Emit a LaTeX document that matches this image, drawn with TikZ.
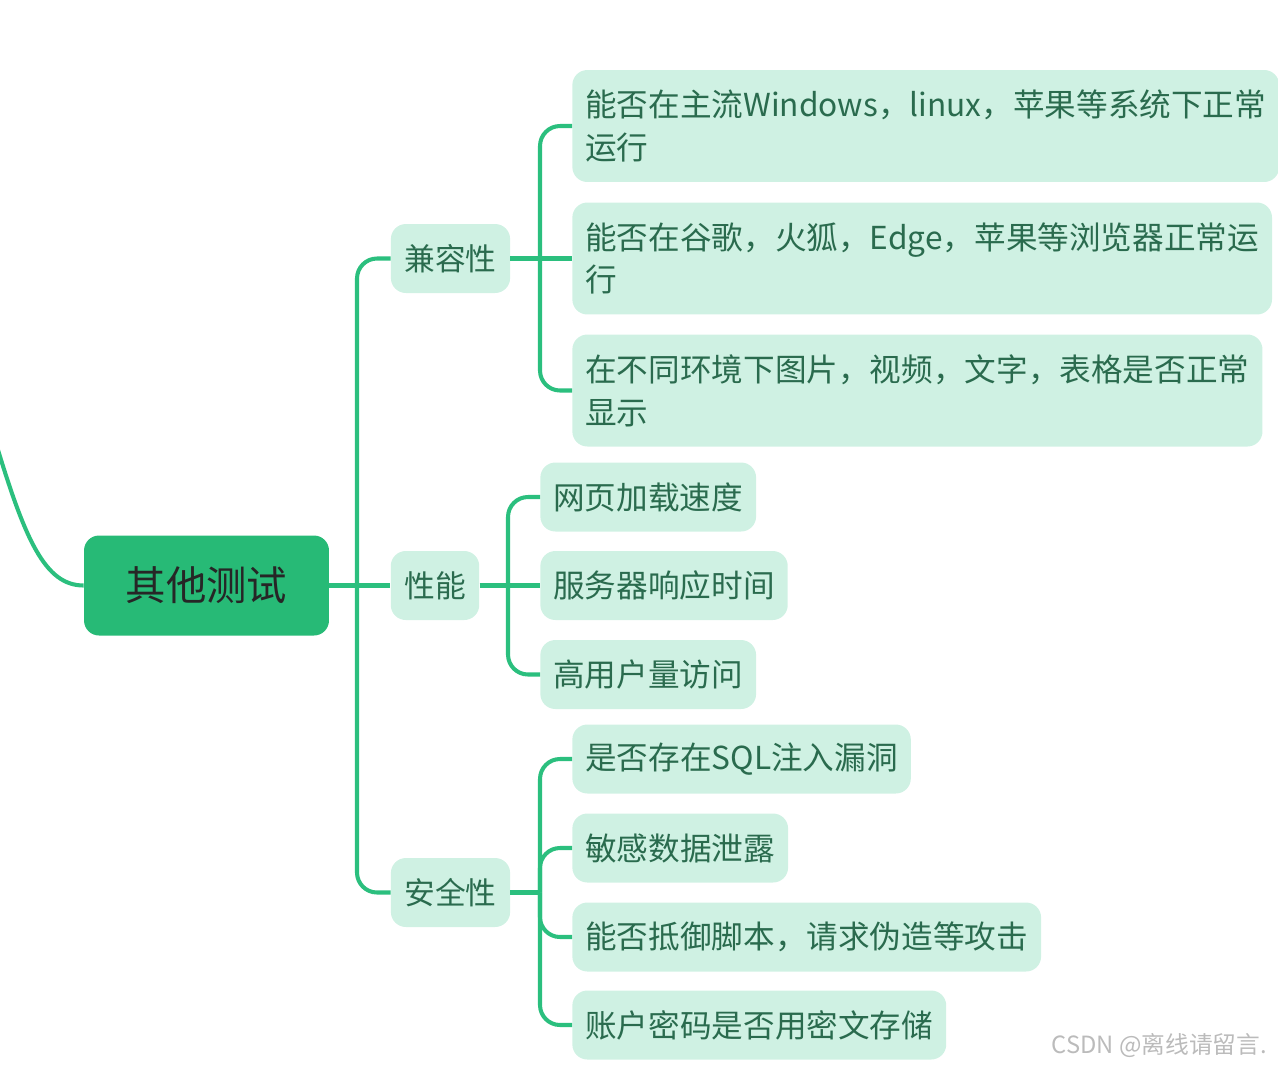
\documentclass[tikz,border=0pt]{standalone}
\usepackage{fontspec}
\setmainfont{Noto Sans CJK SC}
\usetikzlibrary{positioning, calc}
\definecolor{mmline}{HTML}{2BBF7E}
\definecolor{mmroot}{HTML}{27BA76}
\definecolor{mmleaf}{HTML}{CFF1E3}
\definecolor{mmtext}{HTML}{2A6B4E}
\definecolor{mmmark}{HTML}{BBBBBB}

\begin{document}
\begin{tikzpicture}[
    x=0.02cm, y=-0.02cm,
    rootnode/.style={rectangle, fill=mmroot, text=black!85, rounded corners=0.3cm, minimum width=4.9cm, minimum height=2cm, font=\fontsize{23}{28}\selectfont},
    topic/.style={rectangle, fill=mmleaf, text=mmtext, rounded corners=0.3cm, inner xsep=0.27cm, minimum height=1.38cm, font=\fontsize{17.5}{24}\selectfont},
    leaf/.style={rectangle, fill=mmleaf, text=mmtext, rounded corners=0.3cm, inner xsep=0.26cm, minimum height=1.38cm, anchor=west, align=left, font=\fontsize{18}{24.4}\selectfont},
    tall/.style={minimum height=2.24cm},
    link/.style={draw=mmline, line width=2.3pt, rounded corners=0.4cm}
]
\useasboundingbox (0,0) rectangle (1278,1066);
\clip (0,0) rectangle (1278,1066);

% Root and topics
\node[rootnode] (root) at (206.5,585.5) {其他测试};
\node[topic] (compat) at (450.5,258.5) {兼容性};
\node[topic] (perf) at (435,585.5) {性能};
\node[topic] (safe) at (450.5,892.5) {安全性};

% Compatibility leaves
\node[leaf, tall] (c1) at (572,126) {能否在主流Windows，linux，苹果等系统下正常\\运行};
\node[leaf, tall] (c2) at (572,258.5) {能否在谷歌，火狐，Edge，苹果等浏览器正常运\\行};
\node[leaf, tall] (c3) at (572,390.5) {在不同环境下图片，视频，文字，表格是否正常\\显示};

% Performance leaves
\node[leaf] (p1) at (540,497) {网页加载速度};
\node[leaf] (p2) at (540,585.5) {服务器响应时间};
\node[leaf] (p3) at (540,674.5) {高用户量访问};

% Security leaves
\node[leaf] (s1) at (572,759) {是否存在SQL注入漏洞};
\node[leaf] (s2) at (572,848) {敏感数据泄露};
\node[leaf] (s3) at (572,937) {能否抵御脚本，请求伪造等攻击};
\node[leaf] (s4) at (572,1025) {账户密码是否用密文存储};

% Branch points
\coordinate (offpage) at (-5,440);
\coordinate (mtrunk) at (357,585.5);
\coordinate (ctrunk) at (540,258.5);
\coordinate (ptrunk) at (508,585.5);
\coordinate (strunk) at (540,892.5);

% Main branches
\draw[link] (offpage) .. controls (25,540) and (45,585.5) .. (root.west);
\draw[link] (root.east) -- (perf.west);
\draw[link] (mtrunk) |- (compat.west);
\draw[link] (mtrunk) |- (safe.west);

% Compatibility branches
\draw[link] (compat.east) -- (c2.west);
\draw[link] (ctrunk) |- (c1.west);
\draw[link] (ctrunk) |- (c3.west);

% Performance branches
\draw[link] (perf.east) -- (p2.west);
\draw[link] (ptrunk) |- (p1.west);
\draw[link] (ptrunk) |- (p3.west);

% Security branches
\draw[link] (safe.east) -- (strunk);
\draw[link] (strunk) |- (s1.west);
\draw[link] (strunk) |- (s2.west);
\draw[link] (strunk) |- (s3.west);
\draw[link] (strunk) |- (s4.west);

% Watermark
\node[text=mmmark, anchor=east, font=\fontsize{13.5}{16}\selectfont] (mark) at (1273,1045) {CSDN @离线请留言.};
\end{tikzpicture}
\end{document}
